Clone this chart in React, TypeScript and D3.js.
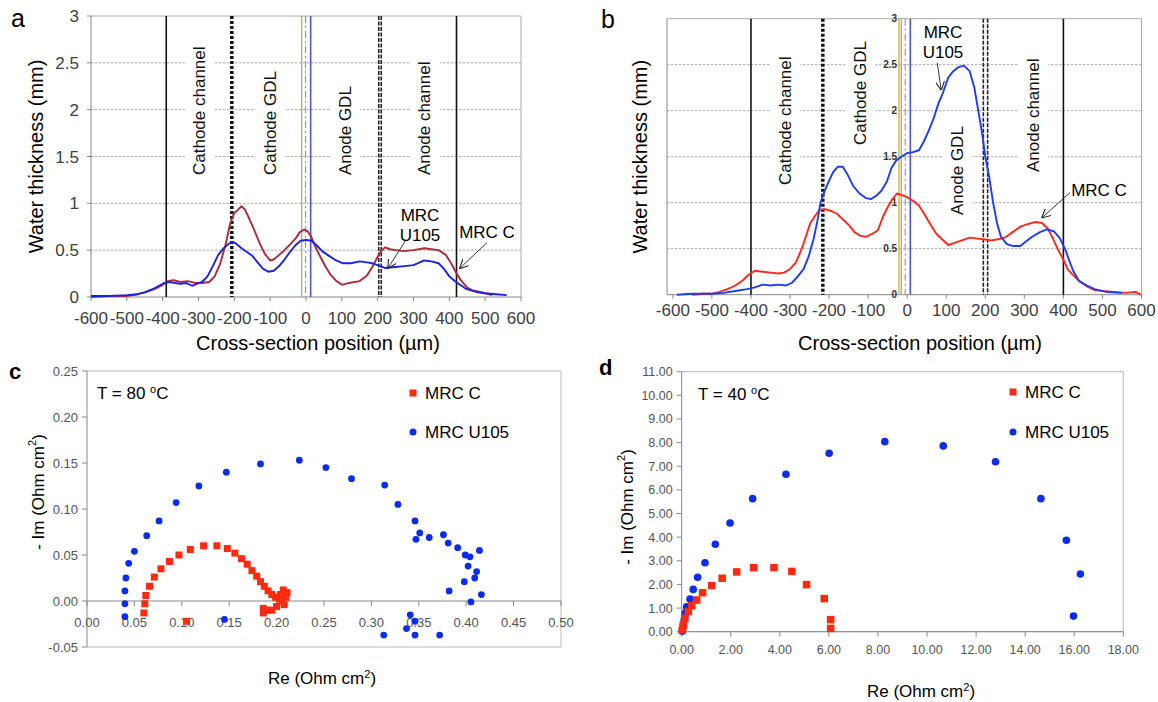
import React from 'react';
import * as d3 from 'd3';

type Pt = [number, number];

const FONT = "'Liberation Sans', Arial, Helvetica, sans-serif";

// ---------- panels a & b: water thickness profiles (position µm, thickness mm) ----------
const positionTicks = [-600, -500, -400, -300, -200, -100, 0, 100, 200, 300, 400, 500, 600];
const thicknessTicks = [0, 0.5, 1, 1.5, 2, 2.5, 3];
const thicknessLabels = ['0', '0.5', '1', '1.5', '2', '2.5', '3'];
const regionNames = ['Cathode channel', 'Cathode GDL', 'Anode GDL', 'Anode channel'];
const aRegionPos = [-296, -100, 109, 332];
const bRegionPos = [-312, -120, 128, 323];

const aBounds = [
  { x: -390, kind: 'solid' }, { x: -207, kind: 'dotted' }, { x: -12, kind: 'green' },
  { x: -1, kind: 'dashdot' }, { x: 13, kind: 'blue' }, { x: 203, kind: 'dashed' },
  { x: 210, kind: 'dashed' }, { x: 420, kind: 'solid' },
];
const bBounds = [
  { x: -400, kind: 'solid' }, { x: -216, kind: 'dotted' }, { x: -21, kind: 'yellow' },
  { x: -15, kind: 'green' }, { x: -5, kind: 'dashdot' }, { x: 8, kind: 'blue' },
  { x: 195, kind: 'dashed' }, { x: 206, kind: 'dashed' }, { x: 400, kind: 'solid' },
];

const aMrcC: Pt[] = [
  [-600, 0], [-550, 0.01], [-500, 0.01], [-470, 0.03], [-450, 0.05], [-420, 0.09], [-400, 0.13],
  [-385, 0.17], [-370, 0.18], [-350, 0.16], [-330, 0.17], [-310, 0.15], [-290, 0.15], [-270, 0.16],
  [-255, 0.22], [-240, 0.35], [-225, 0.55], [-212, 0.78], [-200, 0.9], [-190, 0.93], [-180, 0.97],
  [-170, 0.93], [-160, 0.85], [-145, 0.72], [-130, 0.58], [-115, 0.46], [-100, 0.39], [-90, 0.4],
  [-75, 0.45], [-60, 0.5], [-45, 0.56], [-30, 0.62], [-18, 0.69], [-5, 0.72], [5, 0.7], [15, 0.64],
  [28, 0.52], [40, 0.43], [55, 0.32], [70, 0.23], [85, 0.17], [100, 0.13], [120, 0.15], [150, 0.17],
  [170, 0.23], [185, 0.32], [200, 0.43], [210, 0.49], [220, 0.53], [235, 0.51], [250, 0.5],
  [275, 0.49], [300, 0.5], [330, 0.52], [350, 0.51], [370, 0.5], [390, 0.45], [402, 0.38],
  [412, 0.31], [422, 0.24], [432, 0.18], [450, 0.1], [465, 0.07], [480, 0.06], [500, 0.04],
  [520, 0.02],
];
const aMrcU105: Pt[] = [
  [-600, 0.01], [-550, 0.01], [-500, 0.02], [-470, 0.03], [-450, 0.05], [-430, 0.08], [-410, 0.12],
  [-395, 0.15], [-380, 0.16], [-365, 0.15], [-350, 0.14], [-335, 0.15], [-318, 0.12], [-305, 0.14],
  [-290, 0.16], [-275, 0.22], [-260, 0.33], [-245, 0.45], [-230, 0.52], [-215, 0.57], [-205, 0.59],
  [-195, 0.57], [-180, 0.52], [-165, 0.48], [-150, 0.44], [-135, 0.37], [-120, 0.3], [-105, 0.27],
  [-90, 0.28], [-75, 0.33], [-60, 0.4], [-45, 0.48], [-30, 0.55], [-15, 0.6], [0, 0.61], [15, 0.6],
  [30, 0.55], [45, 0.49], [60, 0.45], [80, 0.4], [103, 0.36], [125, 0.36], [150, 0.38],
  [170, 0.37], [185, 0.36], [200, 0.34], [220, 0.31], [250, 0.32], [275, 0.33], [300, 0.34],
  [330, 0.39], [350, 0.38], [370, 0.36], [385, 0.3], [400, 0.22], [415, 0.17], [430, 0.13],
  [445, 0.09], [460, 0.07], [480, 0.05], [500, 0.04], [530, 0.03], [560, 0.02],
];
const bMrcC: Pt[] = [
  [-550, 0], [-520, 0.01], [-500, 0.01], [-480, 0.03], [-460, 0.06], [-440, 0.1], [-420, 0.16],
  [-405, 0.22], [-390, 0.26], [-370, 0.25], [-350, 0.24], [-330, 0.23], [-315, 0.24], [-300, 0.28],
  [-285, 0.35], [-270, 0.5], [-258, 0.65], [-248, 0.78], [-235, 0.86], [-225, 0.92], [-210, 0.93],
  [-195, 0.91], [-180, 0.88], [-165, 0.82], [-150, 0.76], [-135, 0.68], [-120, 0.64], [-105, 0.63],
  [-90, 0.66], [-75, 0.7], [-62, 0.85], [-50, 0.95], [-38, 1.04], [-26, 1.1], [-12, 1.08],
  [0, 1.06], [15, 1.02], [30, 0.97], [45, 0.87], [60, 0.76], [75, 0.66], [90, 0.6], [105, 0.54],
  [120, 0.56], [140, 0.59], [160, 0.62], [180, 0.61], [200, 0.6], [215, 0.59], [230, 0.6],
  [250, 0.62], [270, 0.68], [290, 0.74], [310, 0.77], [330, 0.79], [345, 0.78], [360, 0.72],
  [372, 0.62], [385, 0.5], [400, 0.38], [412, 0.27], [428, 0.2], [443, 0.14], [460, 0.09],
  [480, 0.05], [500, 0.04], [530, 0.03], [560, 0.02], [585, 0.03], [598, 0.0],
];
const bMrcU105: Pt[] = [
  [-590, 0], [-550, 0.01], [-500, 0.01], [-470, 0.02], [-440, 0.04], [-410, 0.06], [-390, 0.08],
  [-370, 0.11], [-350, 0.1], [-330, 0.11], [-310, 0.1], [-295, 0.13], [-280, 0.2], [-265, 0.28],
  [-252, 0.42], [-240, 0.6], [-230, 0.8], [-222, 1.0], [-212, 1.12], [-202, 1.22], [-190, 1.33],
  [-178, 1.39], [-165, 1.39], [-152, 1.3], [-138, 1.18], [-122, 1.1], [-106, 1.05], [-92, 1.04],
  [-78, 1.08], [-66, 1.13], [-52, 1.23], [-40, 1.38], [-28, 1.46], [-15, 1.5], [0, 1.54],
  [15, 1.55], [30, 1.57], [42, 1.66], [55, 1.78], [68, 1.92], [80, 2.08], [92, 2.2], [105, 2.36],
  [118, 2.43], [130, 2.47], [145, 2.49], [160, 2.43], [172, 2.25], [182, 2.0], [192, 1.75],
  [200, 1.5], [210, 1.28], [220, 1.0], [230, 0.78], [240, 0.63], [255, 0.55], [270, 0.53],
  [290, 0.53], [305, 0.58], [320, 0.63], [340, 0.68], [358, 0.71], [375, 0.69], [390, 0.62],
  [405, 0.49], [415, 0.37], [425, 0.26], [440, 0.15], [460, 0.1], [480, 0.06], [510, 0.03],
  [550, 0.02],
];

// ---------- panels c & d: impedance spectra (Re, -Im in Ohm cm2) ----------
const cReTicks = [0, 0.05, 0.1, 0.15, 0.2, 0.25, 0.3, 0.35, 0.4, 0.45, 0.5];
const cImTicks = [-0.05, 0, 0.05, 0.1, 0.15, 0.2, 0.25];
const dReTicks = [0, 2, 4, 6, 8, 10, 12, 14, 16, 18];
const dImTicks = [0, 1, 2, 3, 4, 5, 6, 7, 8, 9, 10, 11];

const cMrcC: Pt[] = [
  [0.06, -0.013], [0.061, -0.003], [0.062, 0.006], [0.066, 0.016], [0.071, 0.026], [0.078, 0.035],
  [0.087, 0.043], [0.097, 0.05], [0.109, 0.056], [0.123, 0.06], [0.137, 0.06], [0.148, 0.057],
  [0.156, 0.052], [0.163, 0.046], [0.169, 0.04], [0.174, 0.033], [0.179, 0.027], [0.183, 0.021],
  [0.187, 0.016], [0.191, 0.011], [0.195, 0.007], [0.199, 0.004], [0.203, 0.002], [0.206, 0.0],
  [0.208, -0.004], [0.21, 0.004], [0.211, 0.009], [0.207, 0.012], [0.204, 0.007], [0.2, -0.006],
  [0.195, -0.01], [0.19, -0.01], [0.186, -0.008], [0.186, -0.013], [0.105, -0.022],
];
const cMrcU105: Pt[] = [
  [0.04, -0.017], [0.04, -0.003], [0.04, 0.011], [0.041, 0.025], [0.044, 0.041], [0.05, 0.054],
  [0.063, 0.071], [0.076, 0.087], [0.094, 0.107], [0.118, 0.125], [0.147, 0.14], [0.183, 0.149],
  [0.224, 0.153], [0.252, 0.145], [0.279, 0.133], [0.314, 0.126], [0.328, 0.105], [0.346, 0.087],
  [0.351, 0.074], [0.347, 0.067], [0.361, 0.069], [0.376, 0.072], [0.381, 0.063], [0.391, 0.058],
  [0.399, 0.05], [0.404, 0.048], [0.414, 0.055], [0.402, 0.038], [0.411, 0.032], [0.409, 0.025],
  [0.398, 0.021], [0.382, 0.011], [0.416, 0.007], [0.405, -0.001], [0.341, -0.015],
  [0.346, -0.022], [0.337, -0.03], [0.313, -0.037], [0.346, -0.037], [0.372, -0.037],
  [0.145, -0.02],
];
const dMrcC: Pt[] = [
  [0.02, 0.07], [0.07, 0.28], [0.13, 0.56], [0.27, 0.85], [0.41, 1.1], [0.61, 1.34], [0.85, 1.65],
  [1.22, 1.95], [1.65, 2.26], [2.24, 2.53], [2.93, 2.71], [3.76, 2.71], [4.49, 2.55], [5.09, 1.99],
  [5.81, 1.4], [6.07, 0.51], [6.07, 0.14],
];
const dMrcU105: Pt[] = [
  [0.02, 0.02], [0.04, 0.1], [0.06, 0.3], [0.1, 0.5], [0.13, 0.65], [0.15, 0.8], [0.2, 1.05],
  [0.34, 1.38], [0.47, 1.79], [0.65, 2.3], [0.95, 2.92], [1.37, 3.7], [1.97, 4.6], [2.89, 5.63],
  [4.25, 6.66], [6.01, 7.55], [8.28, 8.04], [10.66, 7.86], [12.79, 7.19], [14.64, 5.63],
  [15.68, 3.87], [16.25, 2.44], [15.97, 0.66],
];

const RED_A = '#ad2a3c';
const BLUE_A = '#1c22e0';
const RED_B = '#ff2a1e';
const BLUE_B = '#1f3cf5';
const RED_PT = '#ff2a10';
const BLUE_PT = '#0a2cf0';

type Scale = d3.ScaleLinear<number, number>;

function Boundary({ x, kind, top, bottom }: { x: number; kind: string; top: number; bottom: number }) {
  const p = { x1: x, x2: x, y1: top, y2: bottom };
  if (kind === 'solid') return <line {...p} stroke="#111" strokeWidth={1.6} />;
  if (kind === 'dotted') return <line {...p} stroke="#111" strokeWidth={3.5} strokeDasharray="3 2" />;
  if (kind === 'dashed') return <line {...p} stroke="#222" strokeWidth={1.6} strokeDasharray="4 1.5" />;
  if (kind === 'green') return <line {...p} stroke="#9bbb59" strokeWidth={1.3} />;
  if (kind === 'yellow') return <line {...p} stroke="#e0a820" strokeWidth={1.3} />;
  if (kind === 'dashdot') return <line {...p} stroke="#888" strokeWidth={1} strokeDasharray="7 3 2 3" />;
  return <line {...p} stroke="#4a58dc" strokeWidth={1.6} />;
}

function Arrow({ x1, y1, x2, y2 }: { x1: number; y1: number; x2: number; y2: number }) {
  return <line x1={x1} y1={y1} x2={x2} y2={y2} stroke="#222" strokeWidth={0.9} markerEnd="url(#openArrow)" />;
}

interface ProfileProps {
  xs: Scale;
  ys: Scale;
  bounds: { x: number; kind: string }[];
  regionPos: number[];
  regionBottom: number[];
  curves: { pts: Pt[]; color: string }[];
  innerLabels: boolean;
  letter: string;
  letterX: number;
  letterY: number;
  yTitleX: number;
  xTitleX: number;
  xLabelDy: number;
}

function ProfilePanel(p: ProfileProps) {
  const { xs, ys } = p;
  const [x0, x1] = xs.range();
  const [yb, yt] = ys.range();
  const line = d3.line<Pt>().x((d) => xs(d[0])).y((d) => ys(d[1]));
  return (
    <g>
      {thicknessTicks.slice(1, -1).map((t) => (
        <line key={t} x1={x0} x2={x1} y1={ys(t)} y2={ys(t)} stroke="#a8a8a8" strokeDasharray="2.5 1.5" />
      ))}
      {regionNames.map((name, i) => {
        const len = name.length * 8.6;
        const cx = xs(p.regionPos[i]);
        return (
          <rect key={name} x={cx - 15} y={p.regionBottom[i] - len - 9} width={30} height={len + 15} fill="#fff" />
        );
      })}
      <line x1={x0} x2={x1} y1={yt} y2={yt} stroke="#aaa" />
      <line x1={x1} x2={x1} y1={yt} y2={yb} stroke="#aaa" />
      <line x1={x0} x2={x0} y1={yt} y2={yb} stroke="#888" />
      <line x1={x0} x2={x1} y1={yb} y2={yb} stroke="#888" />
      {positionTicks.map((t) => (
        <g key={t}>
          <line x1={xs(t)} x2={xs(t)} y1={yb} y2={yb + 4} stroke="#888" />
          <text x={xs(t)} y={yb + p.xLabelDy} fontSize={17} fill="#404040" textAnchor="middle">{t}</text>
        </g>
      ))}
      {thicknessTicks.map((t, i) =>
        p.innerLabels ? (
          <text key={t} x={xs(0) - 10} y={ys(t) + 3.5} fontSize={10} fontWeight="bold" fill="#333" textAnchor="end">
            {thicknessLabels[i]}
          </text>
        ) : (
          <g key={t}>
            <line x1={x0 - 4} x2={x0} y1={ys(t)} y2={ys(t)} stroke="#888" />
            <text x={x0 - 12} y={ys(t) + 6} fontSize={17} fill="#404040" textAnchor="end">{thicknessLabels[i]}</text>
          </g>
        )
      )}
      {p.bounds.map((b, i) => (
        <Boundary key={i} x={xs(b.x)} kind={b.kind} top={yt} bottom={yb} />
      ))}
      {p.curves.map((c, i) => (
        <path key={i} d={line(c.pts) ?? ''} fill="none" stroke={c.color} strokeWidth={1.9} strokeLinejoin="round" />
      ))}
      {regionNames.map((name, i) => (
        <text
          key={name}
          transform={`translate(${xs(p.regionPos[i])},${p.regionBottom[i]}) rotate(-90)`}
          fontSize={17}
          dominantBaseline="central"
          fill="#111"
        >
          {name}
        </text>
      ))}
      <text x={p.letterX} y={p.letterY} fontSize={25}>{p.letter}</text>
      <text transform={`translate(${p.yTitleX},${(yt + yb) / 2}) rotate(-90)`} fontSize={20} textAnchor="middle" dominantBaseline="central">
        Water thickness (mm)
      </text>
      <text x={p.xTitleX} y={350} fontSize={20} textAnchor="middle">Cross-section position (µm)</text>
    </g>
  );
}

interface EisProps {
  xs: Scale;
  ys: Scale;
  xTicks: number[];
  yTicks: number[];
  tickFont: number;
  red: Pt[];
  blue: Pt[];
  sq: number;
  r: number;
  letter: string;
  letterX: number;
  letterY: number;
  temp: string;
  tempX: number;
  tempY: number;
  legX: number;
  legY: number[];
  yTitleX: number;
  yTitleY: number;
  xTitleX: number;
  xTitleY: number;
  xLabelY: number;
}

function EisPanel(p: EisProps) {
  const { xs, ys } = p;
  const [x0, x1] = xs.range();
  const [yb, yt] = ys.range();
  const y0 = ys(0);
  return (
    <g>
      <line x1={x0} x2={x1} y1={yt} y2={yt} stroke="#bbb" />
      <line x1={x1} x2={x1} y1={yt} y2={yb} stroke="#bbb" />
      <line x1={x0} x2={x1} y1={yb} y2={yb} stroke="#bbb" />
      <line x1={x0} x2={x0} y1={yt} y2={yb} stroke="#888" />
      <line x1={x0} x2={x1} y1={y0} y2={y0} stroke="#888" />
      {p.xTicks.map((t) => (
        <g key={t}>
          <line x1={xs(t)} x2={xs(t)} y1={y0} y2={y0 + 5} stroke="#888" />
          <text x={xs(t)} y={p.xLabelY} fontSize={p.tickFont} fill="#555" textAnchor="middle">
            {t.toFixed(2)}
          </text>
        </g>
      ))}
      {p.yTicks.map((t) => (
        <g key={t}>
          <line x1={x0 - 5} x2={x0} y1={ys(t)} y2={ys(t)} stroke="#888" />
          <text x={x0 - 9} y={ys(t) + p.tickFont * 0.36} fontSize={p.tickFont} fill="#555" textAnchor="end">
            {t.toFixed(2)}
          </text>
        </g>
      ))}
      {p.blue.map((d, i) => (
        <circle key={'b' + i} cx={xs(d[0])} cy={ys(d[1])} r={p.r} fill={BLUE_PT} />
      ))}
      {p.red.map((d, i) => (
        <rect key={'r' + i} x={xs(d[0]) - p.sq / 2} y={ys(d[1]) - p.sq / 2} width={p.sq} height={p.sq} fill={RED_PT} />
      ))}
      <text x={p.letterX} y={p.letterY} fontSize={22} fontWeight="bold">{p.letter}</text>
      <text x={p.tempX} y={p.tempY} fontSize={17}>
        {p.temp}
        <tspan dy={-6} fontSize={11}>o</tspan>
        <tspan dy={6}>C</tspan>
      </text>
      <rect x={p.legX - 3.5} y={p.legY[0] - 3.5} width={7} height={7} fill={RED_PT} />
      <text x={p.legX + 12} y={p.legY[0] + 6} fontSize={17}>MRC C</text>
      <circle cx={p.legX} cy={p.legY[1]} r={3.5} fill={BLUE_PT} />
      <text x={p.legX + 12} y={p.legY[1] + 6} fontSize={17}>MRC U105</text>
      <text transform={`translate(${p.yTitleX},${p.yTitleY}) rotate(-90)`} fontSize={17} textAnchor="middle" dominantBaseline="central">
        - Im (Ohm cm<tspan dy={-6} fontSize={11}>2</tspan>
        <tspan dy={6}>)</tspan>
      </text>
      <text x={p.xTitleX} y={p.xTitleY} fontSize={17} textAnchor="middle">
        Re (Ohm cm<tspan dy={-6} fontSize={11}>2</tspan>
        <tspan dy={6}>)</tspan>
      </text>
    </g>
  );
}

export default function App() {
  const xa = d3.scaleLinear().domain([-600, 600]).range([91, 521]);
  const ya = d3.scaleLinear().domain([0, 3]).range([297, 16]);
  const xb = d3.scaleLinear().domain([-615, 600]).range([667, 1141.5]);
  const yb = d3.scaleLinear().domain([0, 3]).range([294.7, 18.7]);
  const xc = d3.scaleLinear().domain([0, 0.5]).range([87, 561]);
  const yc = d3.scaleLinear().domain([-0.05, 0.25]).range([647, 371]);
  const xd = d3.scaleLinear().domain([0, 18]).range([681.7, 1123.3]);
  const yd = d3.scaleLinear().domain([0, 11]).range([631.7, 371.7]);

  return (
    <svg
      width={1158}
      height={702}
      style={{ position: 'absolute', left: 0, top: 0, background: '#fff' }}
      fontFamily={FONT}
    >
      <defs>
        <marker id="openArrow" viewBox="0 0 10 10" refX={9} refY={5} markerWidth={9} markerHeight={9} orient="auto" markerUnits="userSpaceOnUse">
          <path d="M0,0 L10,5 L0,10" fill="none" stroke="#222" strokeWidth={1.2} />
        </marker>
      </defs>
      <rect width={1158} height={702} fill="#fff" />

      <ProfilePanel
        xs={xa}
        ys={ya}
        bounds={aBounds}
        regionPos={aRegionPos}
        regionBottom={[175, 175, 175, 175]}
        curves={[{ pts: aMrcC, color: RED_A }, { pts: aMrcU105, color: BLUE_A }]}
        innerLabels={false}
        letter="a"
        letterX={11}
        letterY={27}
        yTitleX={36}
        xTitleX={318}
        xLabelDy={27}
      />
      <text x={420} y={221} fontSize={17} textAnchor="middle">MRC</text>
      <text x={420} y={241} fontSize={17} textAnchor="middle">U105</text>
      <Arrow x1={xa(279)} y1={ya(0.61)} x2={xa(229)} y2={ya(0.31)} />
      <text x={487} y={238} fontSize={17} textAnchor="middle">MRC C</text>
      <Arrow x1={xa(505)} y1={ya(0.58)} x2={xa(430)} y2={ya(0.31)} />

      <ProfilePanel
        xs={xb}
        ys={yb}
        bounds={bBounds}
        regionPos={bRegionPos}
        regionBottom={[185, 145, 215, 172]}
        curves={[{ pts: bMrcC, color: RED_B }, { pts: bMrcU105, color: BLUE_B }]}
        innerLabels={true}
        letter="b"
        letterX={601}
        letterY={28}
        yTitleX={640}
        xTitleX={920}
        xLabelDy={21}
      />
      <text x={943} y={38} fontSize={17} textAnchor="middle">MRC</text>
      <text x={943} y={58} fontSize={17} textAnchor="middle">U105</text>
      <Arrow x1={xb(77)} y1={yb(2.52)} x2={xb(87)} y2={yb(2.23)} />
      <text x={1099} y={196} fontSize={17} textAnchor="middle">MRC C</text>
      <Arrow x1={xb(417)} y1={yb(1.11)} x2={xb(346)} y2={yb(0.84)} />

      <EisPanel
        xs={xc}
        ys={yc}
        xTicks={cReTicks}
        yTicks={cImTicks}
        tickFont={13}
        red={cMrcC}
        blue={cMrcU105}
        sq={7}
        r={3.4}
        letter="c"
        letterX={9}
        letterY={379}
        temp="T = 80 "
        tempX={97}
        tempY={399}
        legX={413}
        legY={[393, 432]}
        yTitleX={38}
        yTitleY={492}
        xTitleX={322}
        xTitleY={684}
        xLabelY={627}
      />
      <EisPanel
        xs={xd}
        ys={yd}
        xTicks={dReTicks}
        yTicks={dImTicks}
        tickFont={12.5}
        red={dMrcC}
        blue={dMrcU105}
        sq={7.5}
        r={3.8}
        letter="d"
        letterX={599}
        letterY={375}
        temp="T = 40 "
        tempX={698}
        tempY={400}
        legX={1013}
        legY={[392, 432]}
        yTitleX={627}
        yTitleY={507}
        xTitleX={921}
        xTitleY={697}
        xLabelY={654}
      />
    </svg>
  );
}
